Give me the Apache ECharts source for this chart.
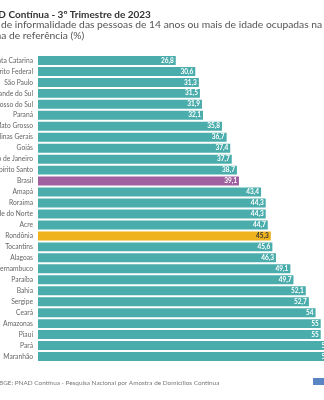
<!DOCTYPE html>
<html><head><meta charset="utf-8">
<script src="https://cdn.jsdelivr.net/npm/echarts@6/dist/echarts.min.js"></script>
<style>html,body{margin:0;padding:0;background:#fff}#c{width:324px;height:400px}</style>
</head><body><div id="c"></div>
<script>
var categories = ["Santa Catarina","Distrito Federal","São Paulo","Rio Grande do Sul","Mato Grosso do Sul","Paraná","Mato Grosso","Minas Gerais","Goiás","Rio de Janeiro","Espírito Santo","Brasil","Amapá","Roraima","Rio Grande do Norte","Acre","Rondônia","Tocantins","Alagoas","Pernambuco","Paraíba","Bahia","Sergipe","Ceará","Amazonas","Piauí","Pará","Maranhão"];
var values = [26.8,30.6,31.3,31.5,31.9,32.1,35.8,36.7,37.4,37.7,38.7,39.1,43.4,44.3,44.3,44.7,45.3,45.6,46.3,49.1,49.7,52.1,52.7,54,55,55,57,57];
var highlight = {"Brasil":"#A0609F","Rondônia":"#EEB31F"};
var baseColor = "#4AADAC";
var titleText = "PNAD Contínua - 3º Trimestre de 2023";
var subtitleLines = ["Taxa de informalidade das pessoas de 14 anos ou mais de idade ocupadas na","semana de referência (%)"];
var sourceText = "FONTE: IBGE: PNAD Contínua - Pesquisa Nacional por Amostra de Domicílios Contínua";

var font = "Lato";
var chart = echarts.init(document.getElementById('c'));
var data = categories.map(function(c,i){
  var col = highlight[c] || baseColor;
  return {value: values[i], itemStyle:{color: col},
    label: {color: c === "Rondônia" ? "#3a3a3a" : "#ffffff"}};
});
chart.setOption({
  backgroundColor:'#fff',
  animation:false,
  grid:{left:38, top:55, width:308.4, height:307, containLabel:false, outerBoundsMode:'none'},
  xAxis:{type:'value', min:0, max:60, show:false},
  yAxis:{type:'category', data:categories, inverse:true,
    axisLine:{show:false}, axisTick:{show:false},
    axisLabel:{fontFamily:font, fontSize:6.7, color:'#666', margin:5}},
  series:[{type:'bar', data:data, barCategoryGap:'18%',
    label:{show:true, position:'insideRight', distance:2, fontFamily:font, fontSize:6.5, fontWeight:'bold',
      formatter:function(p){return String(p.value).replace('.',',');}}}],
  graphic:[
    {type:'text', left:-22.5, top:10, style:{text:titleText, font:'bold 10px '+font, fill:'#333'}},
    {type:'text', left:-22, top:20, style:{text:subtitleLines[0], font:'10.3px '+font, fill:'#555'}},
    {type:'text', left:-28, top:31, style:{text:subtitleLines[1], font:'10.3px '+font, fill:'#555'}},
    {type:'text', left:-27, top:380, style:{text:sourceText, font:'6.4px '+font, fill:'#777'}},
    {type:'rect', shape:{x:313, y:378, width:11, height:7}, style:{fill:'#5A85C4'}}
  ]
});
</script></body></html>
